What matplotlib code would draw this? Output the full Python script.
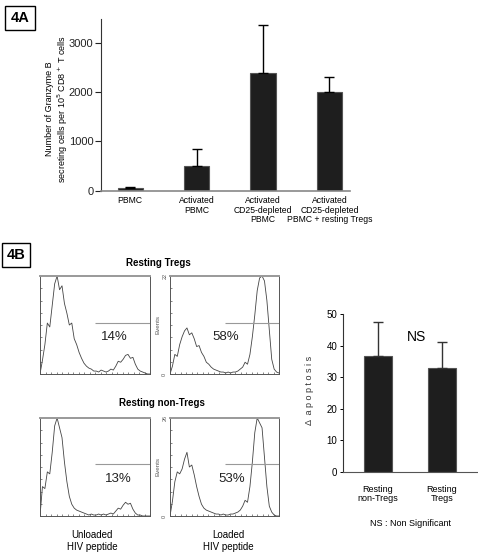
import numpy as np
import matplotlib
matplotlib.use("Agg")
import matplotlib.pyplot as plt

plt.rcParams['font.family'] = ['Liberation Sans', 'DejaVu Sans']

# =========================
# DATA
# =========================

# 4A : granzyme B ELISpot
a_labels = ["PBMC", "Activated\nPBMC", "Activated\nCD25-depleted\nPBMC",
            "Activated\nCD25-depleted\nPBMC + resting Tregs"]
a_means = [50, 500, 2385, 2005]
a_errs = [20, 345, 970, 300]

# 4B : apoptosis bars
b_labels = ["Resting\nnon-Tregs", "Resting\nTregs"]
b_means = [36.8, 32.9]
b_errs = [10.6, 8.2]

# 4B : flow histograms (relative counts, evenly spaced channels)
hist_tl = [0, 0.14, 0.30, 0.52, 0.48, 0.70, 0.92, 1.0, 0.86, 0.90, 0.72, 0.62, 0.50, 0.52,
           0.36, 0.30, 0.22, 0.16, 0.11, 0.08, 0.06, 0.05, 0.03, 0.03, 0.02, 0.04, 0.03,
           0.02, 0.03, 0.05, 0.04, 0.08, 0.13, 0.12, 0.15, 0.19, 0.20, 0.16, 0.17, 0.10,
           0.05, 0.03, 0.02, 0.01, 0.0, 0.0]
hist_tr = [0, 0.08, 0.20, 0.18, 0.30, 0.38, 0.44, 0.47, 0.40, 0.42, 0.36, 0.28, 0.29, 0.22,
           0.18, 0.12, 0.10, 0.07, 0.05, 0.04, 0.03, 0.02, 0.02, 0.01, 0.02, 0.01, 0.02,
           0.02, 0.03, 0.05, 0.07, 0.12, 0.10, 0.20, 0.38, 0.60, 0.85, 0.98, 1.0, 0.95,
           0.75, 0.45, 0.15, 0.05, 0.02, 0.01]
hist_bl = [0, 0.30, 0.28, 0.45, 0.43, 0.65, 0.92, 1.0, 0.90, 0.80, 0.55, 0.35, 0.20, 0.12,
           0.08, 0.06, 0.05, 0.04, 0.03, 0.02, 0.01, 0.02, 0.01, 0.01, 0.02, 0.01, 0.02,
           0.01, 0.02, 0.03, 0.02, 0.05, 0.08, 0.07, 0.11, 0.14, 0.12, 0.13, 0.07, 0.03,
           0.01, 0.01, 0.0, 0.0, 0.0, 0.0]
hist_br = [0, 0.15, 0.35, 0.45, 0.43, 0.48, 0.58, 0.65, 0.50, 0.52, 0.42, 0.30, 0.20, 0.12,
           0.08, 0.06, 0.05, 0.04, 0.03, 0.02, 0.02, 0.01, 0.02, 0.01, 0.01, 0.02, 0.02,
           0.03, 0.04, 0.06, 0.10, 0.16, 0.14, 0.30, 0.55, 0.85, 1.0, 0.95, 0.90, 0.60,
           0.30, 0.10, 0.04, 0.01, 0.0, 0.0]
pcts = ["14%", "58%", "13%", "53%"]
max_events = [None, "22", None, "26"]

BAR = "#1e1e1e"
EDGE = "#555555"

fig = plt.figure(figsize=(4.78, 5.52), dpi=100)

# =========================
# PANEL 4A
# =========================
ax = fig.add_axes([0.2113, 0.6545, 0.521, 0.311])
x = np.arange(len(a_means))
ax.bar(x, a_means, width=0.38, color=BAR, edgecolor=EDGE, linewidth=0.8)
ax.errorbar(x, a_means, yerr=[[0] * len(a_errs), a_errs], fmt="none",
            ecolor="black", elinewidth=1, capsize=3.5, capthick=1)
ax.set_xlim(-0.44, 3.31)
ax.set_ylim(0, 3480)
ax.set_yticks([0, 1000, 2000, 3000])
ax.set_xticks(x)
ax.set_xticklabels(a_labels, fontsize=6.2, linespacing=1.05)
ax.tick_params(axis="x", length=0, pad=4)
ax.tick_params(axis="y", labelsize=8, length=4, width=0.8, pad=1.5, colors="#222222")
ax.spines["top"].set_visible(False)
ax.spines["right"].set_visible(False)
ax.spines["left"].set_color("#333333")
ax.spines["bottom"].set_color("#888888")
ax.spines["bottom"].set_linewidth(1.2)

fig.text(57.5 / 478, 1 - 109 / 552,
         "Number of Granzyme B\nsecreting cells per 10$^5$ CD8$^+$ T cells",
         rotation=90, ha="center", va="center", fontsize=6.5, linespacing=1.1)

fig.text(20 / 478, 1 - 18 / 552, "4A", ha="center", va="center", fontsize=10.5,
         fontweight="bold",
         bbox=dict(boxstyle="square,pad=0.35", fc="white", ec="black", lw=1))
fig.text(16 / 478, 1 - 255 / 552, "4B", ha="center", va="center", fontsize=10.5,
         fontweight="bold",
         bbox=dict(boxstyle="square,pad=0.35", fc="white", ec="black", lw=1))

# =========================
# PANEL 4B : HISTOGRAMS
# =========================
hists = [hist_tl, hist_tr, hist_bl, hist_br]
boxes = [[40 / 478, 1 - 374 / 552, 110 / 478, 98 / 552],
         [170 / 478, 1 - 374 / 552, 109 / 478, 98 / 552],
         [40 / 478, 1 - 516 / 552, 110 / 478, 98 / 552],
         [170 / 478, 1 - 516 / 552, 109 / 478, 98 / 552]]
pct_pos = [(0.68, 0.38), (0.51, 0.38), (0.71, 0.38), (0.57, 0.38)]
gate_y = [0.52, 0.52, 0.53, 0.53]

for i, h in enumerate(hists):
    hx = np.linspace(0, 1, len(h))
    hax = fig.add_axes(boxes[i])
    hax.plot(hx, h, color="#444444", lw=0.6)
    hax.set_xlim(0, 1)
    hax.set_ylim(0, 1.0)
    hax.hlines(gate_y[i], 0.5, 1.0, color="#999999", lw=0.8)
    hax.text(pct_pos[i][0], pct_pos[i][1], pcts[i], ha="center", va="center",
             fontsize=9.5, color="#222222",
             bbox=dict(boxstyle="square,pad=0.15", fc="white", ec="none"))
    for s in hax.spines.values():
        s.set_color("#555555")
        s.set_linewidth(0.7)
    hax.spines["top"].set_color("#999999")
    hax.spines["top"].set_linewidth(1.4)
    hax.set_xticks(np.linspace(0, 1, 5))
    hax.set_xticks(np.linspace(0, 1, 21), minor=True)
    hax.set_xticklabels([])
    hax.tick_params(axis="both", which="both", direction="in", length=1.5,
                    width=0.5, colors="#555555")
    hax.set_yticks(np.linspace(0, 1, 9))
    if max_events[i] is None:
        hax.set_yticklabels([])
    else:
        hax.set_yticklabels(["0", "", "", "", "", "", "", "", max_events[i]],
                            rotation=90, fontsize=4, va="center")
        hax.tick_params(axis="y", pad=2, labelcolor="#555555")
        hax.set_ylabel("Events", fontsize=4.5, color="#555555", labelpad=1)

fig.text(158 / 478, 1 - 263 / 552, "Resting Tregs", ha="center", va="center",
         fontsize=7, fontweight="bold")
fig.text(162 / 478, 1 - 403 / 552, "Resting non-Tregs", ha="center", va="center",
         fontsize=7, fontweight="bold")
fig.text(92 / 478, 1 - 541 / 552, "Unloaded\nHIV peptide", ha="center", va="center",
         fontsize=7, linespacing=1.15)
fig.text(228 / 478, 1 - 541 / 552, "Loaded\nHIV peptide", ha="center", va="center",
         fontsize=7, linespacing=1.15)

# =========================
# PANEL 4B : APOPTOSIS BARS
# =========================
bx = fig.add_axes([343 / 478, 1 - 472 / 552, 134 / 478, 158 / 552])
xb = np.arange(len(b_means))
bx.bar(xb, b_means, width=0.44, color=BAR, edgecolor=EDGE, linewidth=0.8)
bx.errorbar(xb, b_means, yerr=[[0] * len(b_errs), b_errs], fmt="none",
            ecolor="#333333", elinewidth=1, capsize=3.5, capthick=1)
bx.set_xlim(-0.55, 1.55)
bx.set_ylim(0, 50)
bx.set_yticks([0, 10, 20, 30, 40, 50])
bx.set_xticks(xb)
bx.set_xticklabels(b_labels, fontsize=6.5, linespacing=1.1)
bx.tick_params(axis="x", length=0, pad=9)
bx.tick_params(axis="y", labelsize=7, length=2.5, width=0.7, pad=1.5)
bx.spines["top"].set_visible(False)
bx.spines["right"].set_visible(False)
bx.spines["left"].set_color("#333333")
bx.spines["bottom"].set_color("#555555")
bx.text(0.6, 42.6, "NS", ha="center", va="center", fontsize=10)

fig.text(309 / 478, 1 - 390 / 552, "\u0394  a p o p t o s i s", rotation=90,
         ha="center", va="center", fontsize=6.5, color="#333333")
fig.text(410 / 478, 1 - 523 / 552, "NS : Non Significant", ha="center", va="center",
         fontsize=6.5)

plt.savefig("out.png", dpi=100)
